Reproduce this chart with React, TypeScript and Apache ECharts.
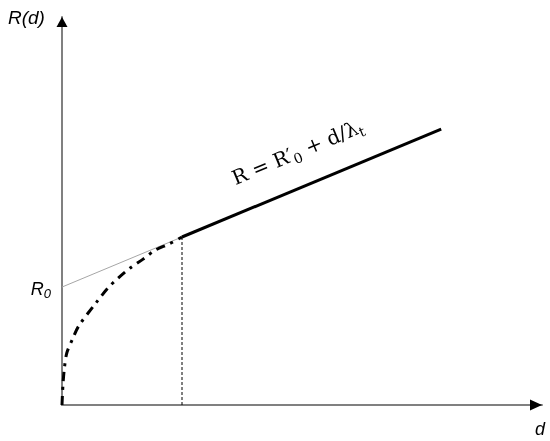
import React, { useEffect, useRef } from "react";
import * as echarts from "echarts";

// distances d (arbitrary units) and resistance R (arbitrary units)
const curveD = [0, 0.2, 0.5, 1.0, 2.2, 3.5, 7.2, 9.6, 11.7, 14.2, 16.9, 19.4, 22.3, 25];
const curveR = [0, 5.2, 9.5, 13.4, 17.0, 20.4, 26.5, 30.2, 32.7, 35.3, 37.6, 39.9, 41.5, 43.3];
const linearD = [25, 79];
const linearR = [43.3, 71.1];
const extrapD = [0, 25];
const extrapR = [30.4, 43.3];
const dStar = 25;
const rStar = 43.3;
const R0 = 30.4;
const axisMax = 100;

const zip = (a: number[], b: number[]) => a.map((v, i) => [v, b[i]]);

export default function App() {
  const ref = useRef<HTMLDivElement>(null);
  useEffect(() => {
    const chart = echarts.init(ref.current!, null, { renderer: "svg" });
    const axisCommon = {
      type: "value",
      min: 0,
      max: axisMax,
      axisLine: { show: true, onZero: true, lineStyle: { color: "#808080", width: 2 } },
      axisTick: { show: false },
      axisLabel: { show: false },
      splitLine: { show: false },
    };
    chart.setOption({
      animation: false,
      grid: { left: 62, right: 8, top: 17, bottom: 36 },
      xAxis: { ...axisCommon },
      yAxis: { ...axisCommon },
      series: [
        {
          type: "line",
          data: zip(extrapD, extrapR),
          symbol: "none",
          lineStyle: { color: "#a6a6a6", width: 1 },
          z: 1,
        },
        {
          type: "line",
          data: zip(curveD, curveR),
          symbol: "none",
          smooth: 0.3,
          lineStyle: { color: "#000", width: 3, type: [9, 6, 3, 6], cap: "butt" },
          z: 2,
        },
        {
          type: "line",
          data: zip(linearD, linearR),
          symbol: "none",
          lineStyle: { color: "#000", width: 3 },
          z: 3,
        },
        {
          type: "line",
          data: [[dStar, 0], [dStar, rStar]],
          symbol: "none",
          lineStyle: { color: "#000", width: 1, type: [3, 2] },
          z: 2,
        },
      ],
    });

    const p = (x: number, y: number) => chart.convertToPixel({ gridIndex: 0 }, [x, y]) as number[];
    const o = p(0, 0);
    const xe = p(axisMax, 0);
    const ye = p(0, axisMax);
    const r0 = p(0, R0);
    const l1 = p(linearD[0], linearR[0]);
    const l2 = p(linearD[1], linearR[1]);
    const ang = Math.atan2(l1[1] - l2[1], l2[0] - l1[0]);
    const eq = p(36.6, 55.2);

    chart.setOption({
      graphic: [
        {
          type: "polygon",
          shape: { points: [[ye[0], ye[1]], [ye[0] - 5.5, ye[1] + 10], [ye[0] + 5.5, ye[1] + 10]] },
          style: { fill: "#000" },
          z: 10,
        },
        {
          type: "polygon",
          shape: { points: [[xe[0], xe[1]], [xe[0] - 12, xe[1] - 5.5], [xe[0] - 12, xe[1] + 5.5]] },
          style: { fill: "#000" },
          z: 10,
        },
        {
          type: "text",
          x: 8,
          y: 17,
          style: {
            text: "R(d)",
            fontFamily: "Liberation Sans",
            fontStyle: "italic",
            fontSize: 19,
            fill: "#000",
            align: "left",
            verticalAlign: "middle",
          },
        },
        {
          type: "text",
          x: o[0] - 11,
          y: r0[1] + 2,
          style: {
            text: "{r|R}{s|0}",
            align: "right",
            verticalAlign: "middle",
            rich: {
              r: { fontFamily: "Liberation Sans", fontStyle: "italic", fontSize: 18, fill: "#000", lineHeight: 22, verticalAlign: "middle" },
              s: { fontFamily: "Liberation Sans", fontStyle: "italic", fontSize: 13, fill: "#000", lineHeight: 22, verticalAlign: "bottom" },
            },
          },
        },
        {
          type: "text",
          x: xe[0] - 2,
          y: o[1] + 24,
          style: {
            text: "d",
            fontFamily: "Liberation Sans",
            fontStyle: "italic",
            fontSize: 18,
            fill: "#000",
            align: "center",
            verticalAlign: "middle",
          },
        },
        {
          type: "text",
          x: eq[0],
          y: eq[1],
          rotation: ang,
          style: {
            text: "{m|R = R′}{s|0}{m| + d/λ}{s|t}",
            align: "left",
            verticalAlign: "bottom",
            rich: {
              m: { fontFamily: "DejaVu Serif", fontSize: 20, fill: "#000", lineHeight: 26, verticalAlign: "middle" },
              s: { fontFamily: "DejaVu Serif", fontSize: 14, fill: "#000", lineHeight: 26, verticalAlign: "bottom" },
            },
          },
        },
      ],
    });
    return () => chart.dispose();
  }, []);
  return <div ref={ref} style={{ position: "fixed", left: 0, top: 0, width: 550, height: 441 }} />;
}
